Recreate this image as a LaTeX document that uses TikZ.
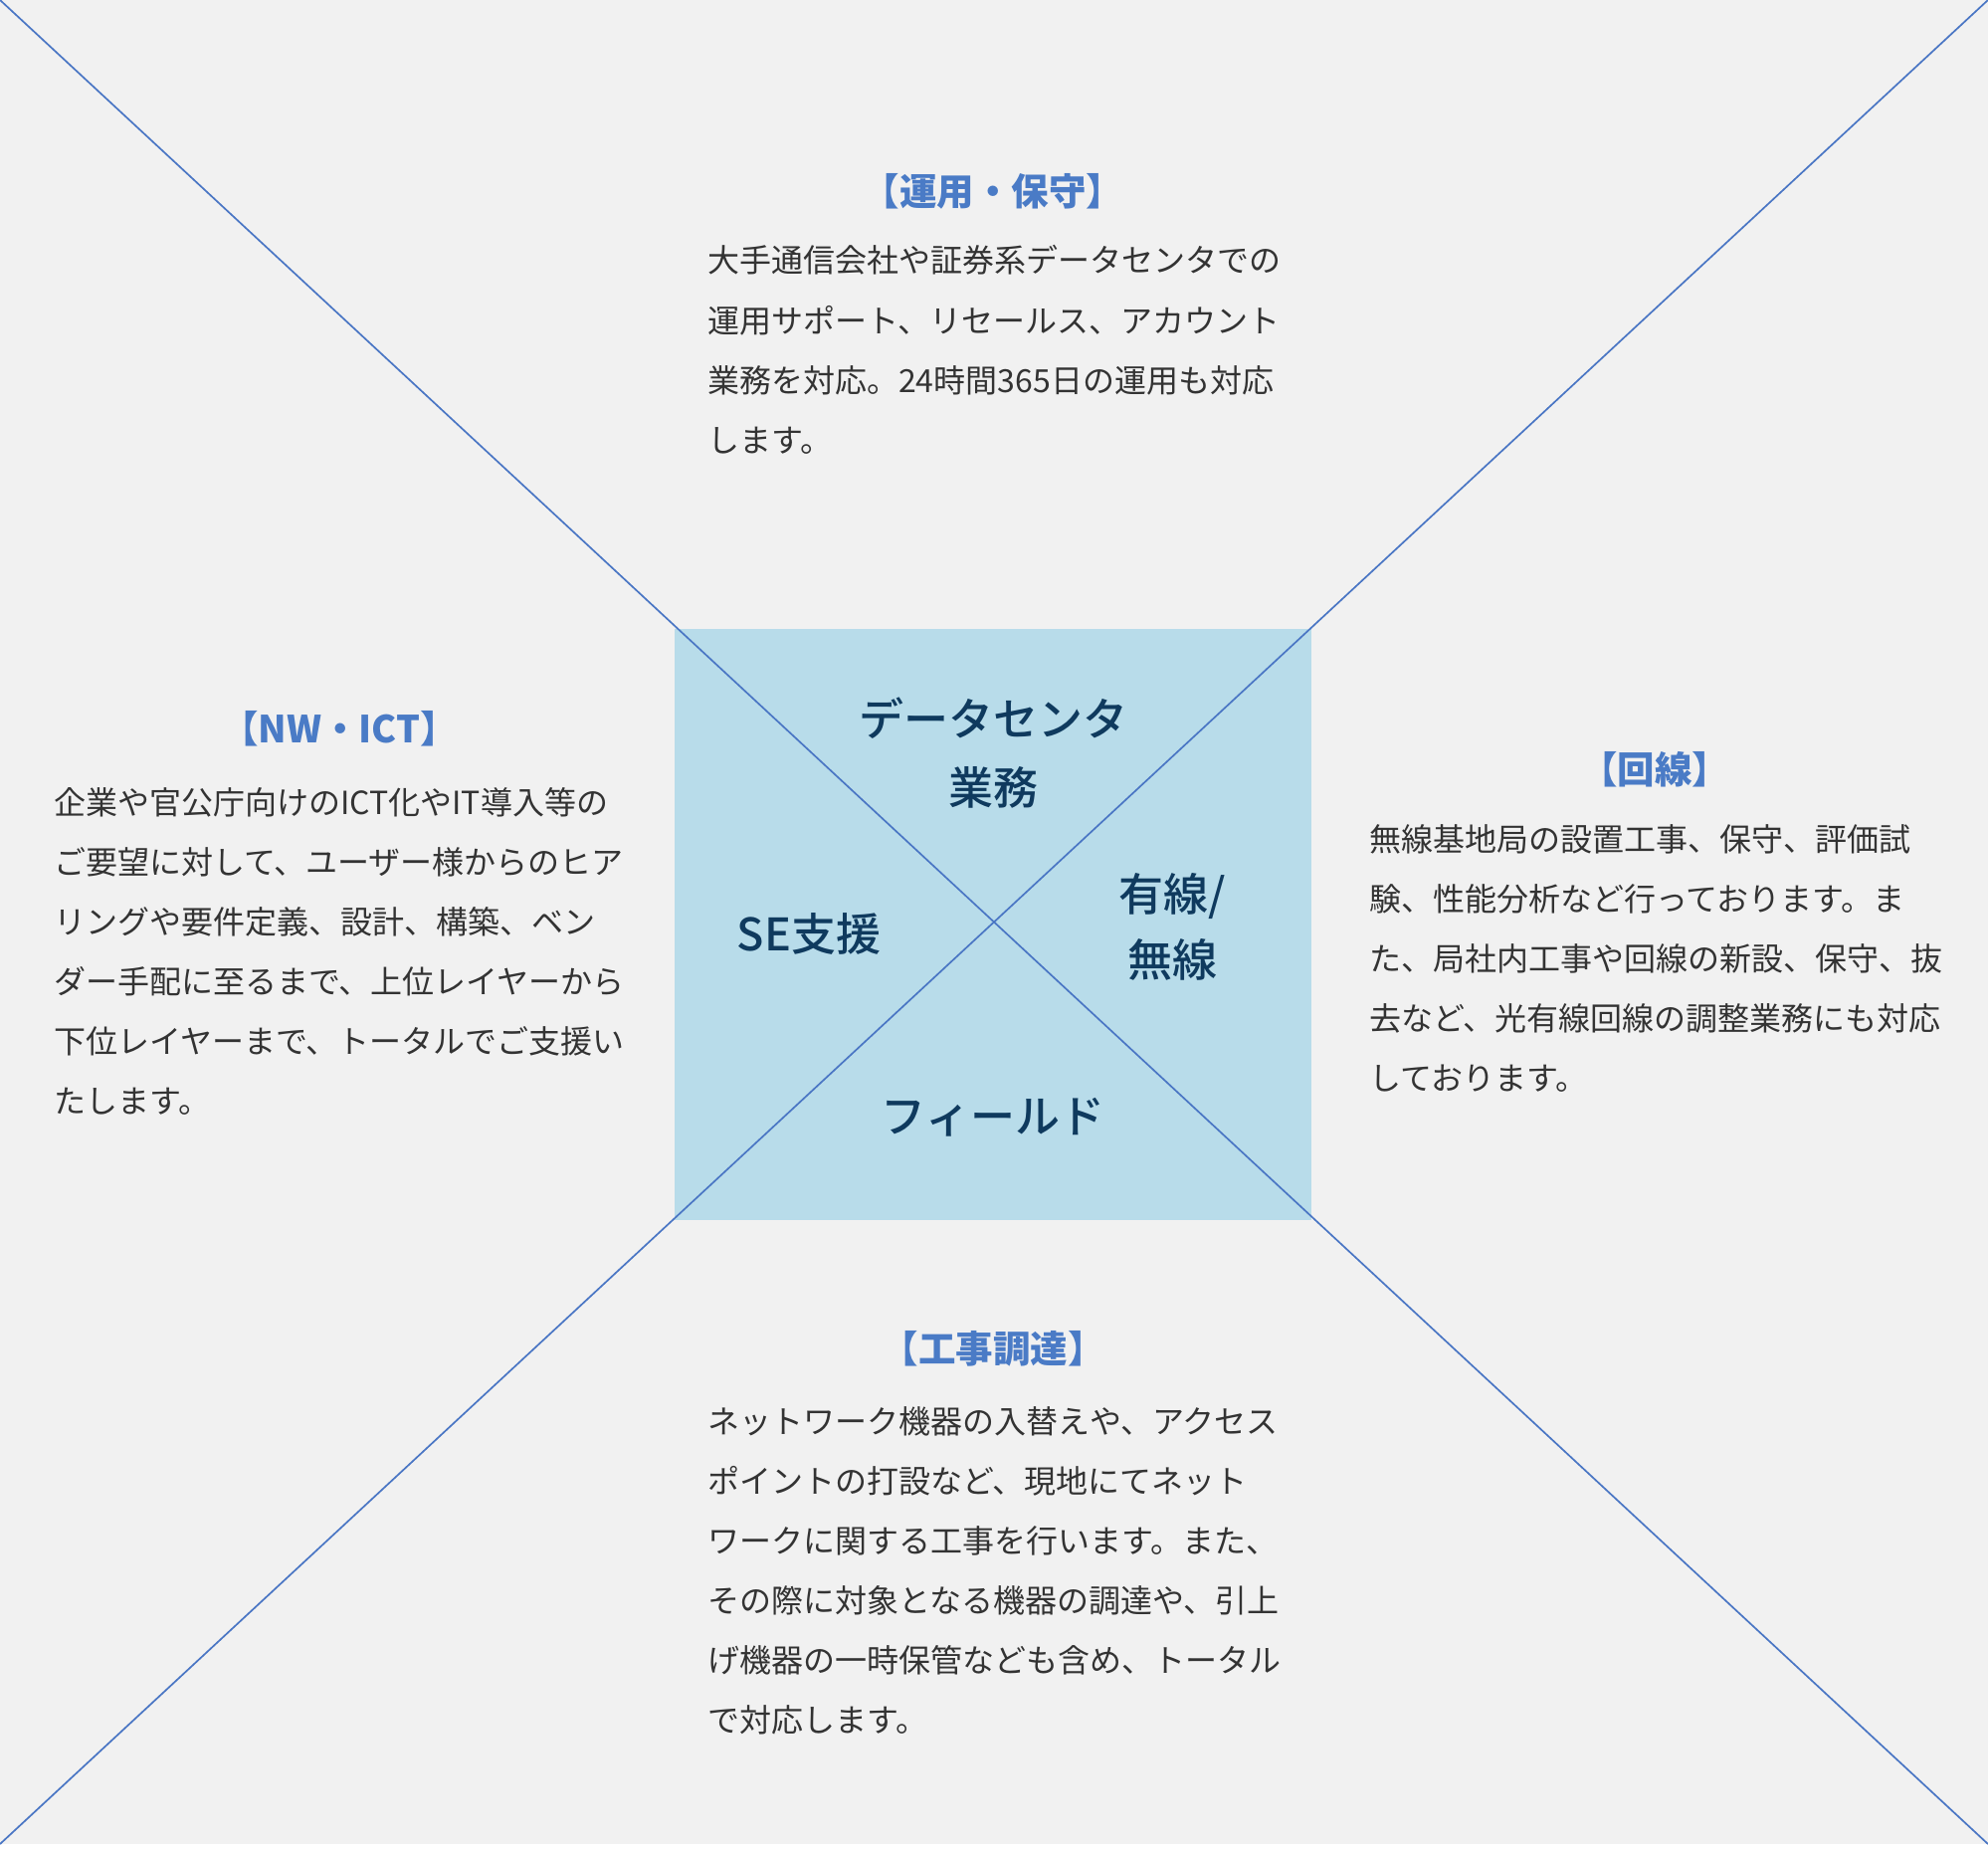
\documentclass[tikz,border=0pt]{standalone}
\usepackage{fontspec}
\setmainfont{Noto Sans CJK JP}
\newfontfamily\centfont{Noto Sans CJK JP Medium}
\definecolor{bgc}{HTML}{F1F1F1}
\definecolor{boxc}{HTML}{B8DCEA}
\definecolor{linec}{HTML}{4A76C4}
\definecolor{titlec}{HTML}{4A7BC6}
\definecolor{centc}{HTML}{0F3A5E}
\definecolor{bodyc}{HTML}{333333}
\tikzset{
  diag/.style={draw=linec, line width=1.7pt},
  body/.style={anchor=base west, inner sep=0pt, text=bodyc, font=\fontsize{32}{40}\selectfont},
  ttl/.style={anchor=base, inner sep=0pt, text=titlec, font=\fontsize{37.5}{44}\selectfont\bfseries},
  cent/.style={anchor=base, inner sep=0pt, text=centc, font=\fontsize{45}{50}\selectfont\centfont}
}
\begin{document}
\begin{tikzpicture}[x=1pt,y=-1pt]
\useasboundingbox (0,0) rectangle (1998,1860);
\fill[white] (0,0) rectangle (1998,1860);
\fill[bgc] (0,0) rectangle (1998,1853);
\fill[boxc] (678,632) rectangle (1318,1226);
\coordinate (tl) at (0,0);
\coordinate (tr) at (1998,0);
\coordinate (bl) at (0,1853);
\coordinate (br) at (1998,1853);
\draw[diag] (tl) -- (br);
\draw[diag] (tr) -- (bl);
% centre labels
\node[cent] (c1) at (998,739) {データセンタ};
\node[cent] (c2) at (998,808) {業務};
\node[cent] (c3) at (813,955) {SE支援};
\node[cent] (c4) at (1178,915) {有線/};
\node[cent] (c5) at (1178,981) {無線};
\node[cent] (c6) at (998,1138) {フィールド};
% top block
\node[ttl] (t0) at (998,206) {【運用・保守】};
\node[body] (t1) at (711,273) {大手通信会社や証券系データセンタでの};
\node[body] (t2) at (711,334) {運用サポート、リセールス、アカウント};
\node[body] (t3) at (711,394) {業務を対応。24時間365日の運用も対応};
\node[body] (t4) at (711,454) {します。};
% left block
\node[ttl] (l0) at (341,746) {【NW・ICT】};
\node[body] (l1) at (54,818) {企業や官公庁向けのICT化やIT導入等の};
\node[body] (l2) at (54,878) {ご要望に対して、ユーザー様からのヒア};
\node[body] (l3) at (54,938) {リングや要件定義、設計、構築、ベン};
\node[body] (l4) at (54,998) {ダー手配に至るまで、上位レイヤーから};
\node[body] (l5) at (54,1058) {下位レイヤーまで、トータルでご支援い};
\node[body] (l6) at (54,1118) {たします。};
% right block
\node[ttl] (r0) at (1663,787) {【回線】};
\node[body] (r1) at (1376,855) {無線基地局の設置工事、保守、評価試};
\node[body] (r2) at (1376,915) {験、性能分析など行っております。ま};
\node[body] (r3) at (1376,975) {た、局社内工事や回線の新設、保守、抜};
\node[body] (r4) at (1376,1035) {去など、光有線回線の調整業務にも対応};
\node[body] (r5) at (1376,1095) {しております。};
% bottom block
\node[ttl] (b0) at (998,1369) {【工事調達】};
\node[body] (b1) at (711,1440) {ネットワーク機器の入替えや、アクセス};
\node[body] (b2) at (711,1500) {ポイントの打設など、現地にてネット};
\node[body] (b3) at (711,1560) {ワークに関する工事を行います。また、};
\node[body] (b4) at (711,1620) {その際に対象となる機器の調達や、引上};
\node[body] (b5) at (711,1680) {げ機器の一時保管なども含め、トータル};
\node[body] (b6) at (711,1740) {で対応します。};
\end{tikzpicture}
\end{document}
